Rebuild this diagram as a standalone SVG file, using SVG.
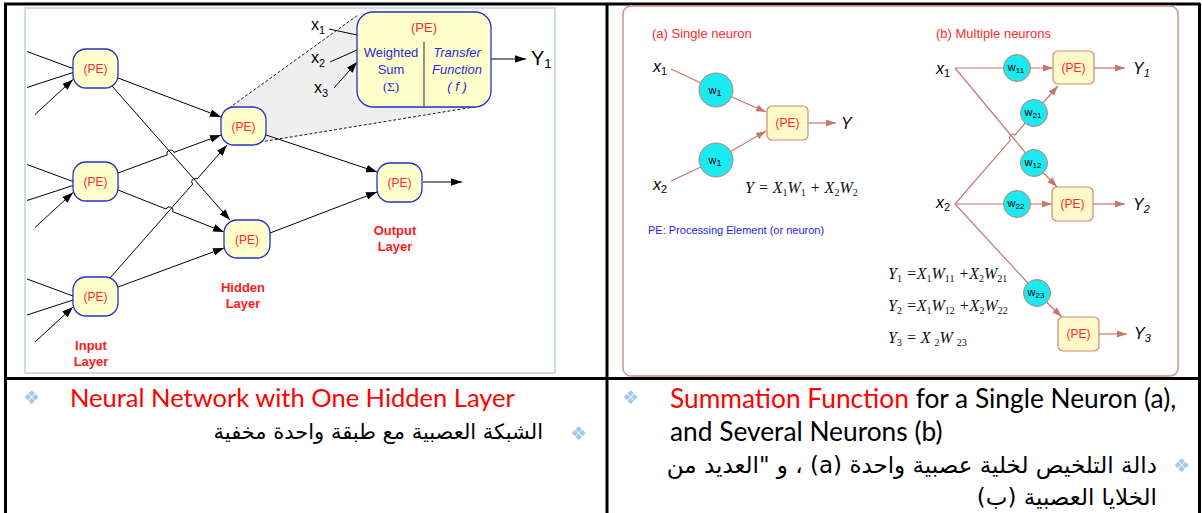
<svg xmlns="http://www.w3.org/2000/svg" width="1202" height="513" viewBox="0 0 1202 513">
<defs>
<marker id="ak" viewBox="0 0 10 7" refX="10" refY="3.5" markerWidth="11" markerHeight="7.7" markerUnits="userSpaceOnUse" orient="auto"><path d="M0,0L10,3.5L0,7z" fill="#000"/></marker>
<marker id="ar" viewBox="0 0 10 7" refX="10" refY="3.5" markerWidth="10" markerHeight="7" markerUnits="userSpaceOnUse" orient="auto"><path d="M0,0L10,3.5L0,7z" fill="#c8776c"/></marker>
</defs>
<style>
text{font-family:"Liberation Sans",Arial,sans-serif}
.pe{fill:#ffffcc;stroke:#2230cc;stroke-width:1.3}
.pet{font-size:12px;fill:#ff2a2a;text-anchor:middle}
.ln{stroke:#000;stroke-width:1;fill:none}
.lk{marker-end:url(#ak)}
.dash{stroke:#000;stroke-width:0.9;stroke-dasharray:3,2;fill:none}
.blue{font-size:13px;fill:#2a2ae0;text-anchor:middle}
.lay{font-size:13px;font-weight:bold;fill:#ff1a1a;text-anchor:middle}
.xl{font-size:16px;fill:#000}
.rl{stroke:#c8776c;stroke-width:1.2;fill:none}
.rk{marker-end:url(#ar)}
.w{fill:#1ce8ef;stroke:#c08078;stroke-width:1}
.wt{font-size:11px;fill:#000;text-anchor:middle}
.rpe{fill:#fff8c8;stroke:#d0887c;stroke-width:1.2}
.rpt{font-size:12px;fill:#ff2a2a;text-anchor:middle}
.it{font-size:16px;font-style:italic;fill:#000}
.eq{font-family:"Liberation Serif","Times New Roman",serif;font-style:italic;font-size:16px;fill:#111}
.sb{font-style:normal;font-size:10px}
.hd{font-size:13px;fill:#ff2a2a}
.bul{font-family:"DejaVu Sans",sans-serif;font-size:19px;fill:#9ccbee}
.en{font-family:Lato,"Open Sans",sans-serif;font-size:25.5px;fill:#000}
.en2{font-family:Lato,"Open Sans",sans-serif;font-size:26.3px;fill:#000}
.ar{font-family:"DejaVu Sans","Noto Sans",sans-serif;font-size:21px;fill:#000}
.ar2{font-family:"DejaVu Sans","Noto Sans",sans-serif;font-size:23px;fill:#000}
.tb{stroke:#000;stroke-width:3;fill:none}
</style>

<!-- table -->
<g id="table">
<path class="tb" d="M4,4H1200M5.5,3V513M607,3V513M4,378.5H1200M1199.5,3V513"/>
</g>

<!-- LEFT PANEL -->
<rect x="25" y="8" width="530" height="365" fill="#fff" stroke="#cfdbe8" stroke-width="2"/>
<polygon points="229,108 358,15 482,105 260,142" fill="#efefef"/>
<path class="dash" d="M229,108L358,15M260,142L480,106"/>

<g id="connectors-left">
<path class="ln lk" d="M27,51.5L73,68.5M27,87.5L73,72.5M35,114.5L73,79.5"/>
<path class="ln lk" d="M27,164.5L73,181.5M27,200.5L73,185.5M35,227.5L73,192.5"/>
<path class="ln lk" d="M27,279L73,296M27,315L73,300M35,342L73,307"/>
<path class="ln lk" d="M118,78L221,117"/>
<path class="ln lk" d="M112,86L230,220"/>
<path class="ln lk" d="M118,173L167.3,154.8A3.5,3.5 0 0 1 173.9,152.4L221,135"/>
<path class="ln lk" d="M118,190L166.2,209.1A3.5,3.5 0 0 1 172.7,211.7L224,232"/>
<path class="ln lk" d="M110,278L192.6,184.1A3.5,3.5 0 0 1 197.2,178.9L227,145"/>
<path class="ln lk" d="M118,287L224,248"/>
<path class="ln lk" d="M266,135L377,172"/>
<path class="ln lk" d="M270,233L377,192"/>
<path class="ln lk" d="M423,182L462,182"/>
<path class="ln lk" d="M329,29L357,35M330,62L357,50M334,88L357,62"/>
<path class="ln lk" d="M491,59L526,59"/>
</g>

<g id="in1"><rect class="pe" x="73" y="49" width="45" height="39" rx="13"/><text class="pet" x="95.5" y="73">(PE)</text></g>
<g id="in2"><rect class="pe" x="73" y="162" width="45" height="39" rx="13"/><text class="pet" x="95.5" y="186">(PE)</text></g>
<g id="in3"><rect class="pe" x="73" y="277" width="45" height="39" rx="13"/><text class="pet" x="95.5" y="301">(PE)</text></g>
<g id="hid1"><rect class="pe" x="221" y="107" width="45" height="38" rx="13"/><text class="pet" x="243.5" y="130.5">(PE)</text></g>
<g id="hid2"><rect class="pe" x="224" y="220" width="46" height="38" rx="13"/><text class="pet" x="247" y="243.5">(PE)</text></g>
<g id="out"><rect class="pe" x="377" y="163" width="45" height="39" rx="13"/><text class="pet" x="399.5" y="187">(PE)</text></g>

<g id="bigpe">
<rect class="pe" x="357" y="12" width="134" height="95" rx="16"/>
<line x1="424" y1="42" x2="424" y2="107" stroke="#555" stroke-width="1.3"/>
<text class="pet" x="424" y="32" style="font-size:13px">(PE)</text>
<text class="blue" x="391" y="57">Weighted</text>
<text class="blue" x="391" y="74">Sum</text>
<text class="blue" x="391" y="91" style="font-family:'Liberation Serif',serif">(Σ)</text>
<text class="blue" x="457" y="57" font-style="italic">Transfer</text>
<text class="blue" x="457" y="74" font-style="italic">Function</text>
<text class="blue" x="457" y="91" font-style="italic">( f )</text>
</g>

<g id="xlabels">
<text class="xl" x="311" y="30">x<tspan font-size="11" dy="4">1</tspan></text>
<text class="xl" x="311" y="63">x<tspan font-size="11" dy="4">2</tspan></text>
<text class="xl" x="314" y="93">x<tspan font-size="11" dy="4">3</tspan></text>
<text x="531" y="65" font-size="20">Y<tspan font-size="13" dy="3">1</tspan></text>
</g>

<g id="layers">
<text class="lay" x="91" y="350">Input</text><text class="lay" x="91" y="366">Layer</text>
<text class="lay" x="243" y="292">Hidden</text><text class="lay" x="243" y="308">Layer</text>
<text class="lay" x="395" y="235">Output</text><text class="lay" x="395" y="251">Layer</text>
</g>

<!-- RIGHT PANEL -->
<rect x="623" y="6" width="555" height="370" rx="8" fill="#fff" stroke="#d4908a" stroke-width="1.5"/>
<text class="hd" x="652" y="38">(a) Single neuron</text>
<text class="hd" x="936" y="38">(b) Multiple neurons</text>
<text x="648" y="234" font-size="11" fill="#2424ee">PE: Processing Element (or neuron)</text>

<g id="connectors-right">
<path class="rl" d="M671,69L716,90"/>
<path class="rl rk" d="M716,90L766,112"/>
<path class="rl" d="M671,181L716,160"/>
<path class="rl rk" d="M716,160L766,131"/>
<path class="rl rk" d="M808,123L836,123"/>
<path class="rl" d="M955,68L1017,68"/>
<path class="rl rk" d="M1017,68L1053,68"/>
<path class="rl" d="M955,68L1034,163"/>
<path class="rl rk" d="M1034,163L1057,187"/>
<path class="rl" d="M955,204L1010.5,140.1A3.5,3.5 0 0 1 1015.1,134.9L1034,113"/>
<path class="rl rk" d="M1034,113L1058,86"/>
<path class="rl" d="M955,204L1017,204"/>
<path class="rl rk" d="M1017,204L1052,204"/>
<path class="rl" d="M955,204L1037,293"/>
<path class="rl rk" d="M1037,293L1062,317"/>
<path class="rl rk" d="M1094,68L1125,68"/>
<path class="rl rk" d="M1093,204L1125,204"/>
<path class="rl rk" d="M1099,334L1127,334"/>
</g>

<g id="a-w1"><circle class="w" cx="716" cy="90" r="17"/><text class="wt" x="715" y="94" font-size="12">w<tspan font-size="9" dy="2">1</tspan></text></g>
<g id="a-w2"><circle class="w" cx="716" cy="160" r="17"/><text class="wt" x="715" y="164" font-size="12">w<tspan font-size="9" dy="2">1</tspan></text></g>
<g id="a-pe"><rect class="rpe" x="767" y="106" width="41" height="34" rx="5"/><text class="rpt" x="787.5" y="127">(PE)</text></g>
<text class="it" x="653" y="72">x<tspan font-size="11" font-style="normal" dy="3">1</tspan></text>
<text class="it" x="653" y="190">x<tspan font-size="11" font-style="normal" dy="3">2</tspan></text>
<text class="it" x="841" y="129">Y</text>
<text class="eq" x="745" y="193" font-size="17">Y = X<tspan class="sb" dy="3">1</tspan><tspan dy="-3">W</tspan><tspan class="sb" dy="3">1</tspan><tspan dy="-3"> + X</tspan><tspan class="sb" dy="3">2</tspan><tspan dy="-3">W</tspan><tspan class="sb" dy="3">2</tspan></text>

<g id="b-w11"><circle class="w" cx="1017" cy="68" r="13.5"/><text class="wt" x="1016" y="71">w<tspan font-size="8" dy="2">11</tspan></text></g>
<g id="b-w21"><circle class="w" cx="1034" cy="113" r="13.5"/><text class="wt" x="1033" y="116">w<tspan font-size="8" dy="2">21</tspan></text></g>
<g id="b-w12"><circle class="w" cx="1034" cy="163" r="13.5"/><text class="wt" x="1033" y="166">w<tspan font-size="8" dy="2">12</tspan></text></g>
<g id="b-w22"><circle class="w" cx="1017" cy="204" r="13.5"/><text class="wt" x="1016" y="207">w<tspan font-size="8" dy="2">22</tspan></text></g>
<g id="b-w23"><circle class="w" cx="1037" cy="293" r="13.5"/><text class="wt" x="1036" y="296">w<tspan font-size="8" dy="2">23</tspan></text></g>
<g id="b-pe1"><rect class="rpe" x="1053" y="51" width="41" height="33" rx="5"/><text class="rpt" x="1073.5" y="72">(PE)</text></g>
<g id="b-pe2"><rect class="rpe" x="1052" y="187" width="41" height="34" rx="5"/><text class="rpt" x="1072.5" y="208">(PE)</text></g>
<g id="b-pe3"><rect class="rpe" x="1058" y="317" width="41" height="34" rx="5"/><text class="rpt" x="1078.5" y="338">(PE)</text></g>
<text class="it" x="936" y="74">x<tspan font-size="11" font-style="normal" dy="3">1</tspan></text>
<text class="it" x="936" y="208">x<tspan font-size="11" font-style="normal" dy="3">2</tspan></text>
<text class="it" x="1133" y="74">Y<tspan font-size="11" dy="3">1</tspan></text>
<text class="it" x="1133" y="210">Y<tspan font-size="11" dy="3">2</tspan></text>
<text class="it" x="1134" y="339">Y<tspan font-size="11" dy="3">3</tspan></text>

<text class="eq" x="888" y="279">Y<tspan class="sb" dy="3">1</tspan><tspan dy="-3"> =X</tspan><tspan class="sb" dy="3">1</tspan><tspan dy="-3">W</tspan><tspan class="sb" dy="3">11</tspan><tspan dy="-3"> +X</tspan><tspan class="sb" dy="3">2</tspan><tspan dy="-3">W</tspan><tspan class="sb" dy="3">21</tspan></text>
<text class="eq" x="888" y="311">Y<tspan class="sb" dy="3">2</tspan><tspan dy="-3"> =X</tspan><tspan class="sb" dy="3">1</tspan><tspan dy="-3">W</tspan><tspan class="sb" dy="3">12</tspan><tspan dy="-3"> +X</tspan><tspan class="sb" dy="3">2</tspan><tspan dy="-3">W</tspan><tspan class="sb" dy="3">22</tspan></text>
<text class="eq" x="888" y="343">Y<tspan class="sb" dy="3">3</tspan><tspan dy="-3">  =  X </tspan><tspan class="sb" dy="3">2</tspan><tspan dy="-3">W </tspan><tspan class="sb" dy="3">23</tspan></text>

<!-- bottom text -->
<text class="bul" x="23" y="404">❖</text>
<text class="en" x="70" y="407" style="fill:#ff0000">Neural Network with One Hidden Layer</text>
<text class="bul" x="570" y="440">❖</text>
<text class="ar" x="543" y="439" direction="rtl" text-anchor="start">الشبكة العصبية مع طبقة واحدة مخفية</text>

<text class="bul" x="622" y="404">❖</text>
<text class="en2" x="670" y="408"><tspan fill="#ff0000">Summation Function</tspan> for a Single Neuron (a),</text>
<text class="en2" x="670" y="441">and Several Neurons (b)</text>
<text class="bul" x="1173" y="472">❖</text>
<text class="ar2" x="1157" y="473" direction="rtl" text-anchor="start">دالة التلخيص لخلية عصبية واحدة (a) ، و "العديد من</text>
<text class="ar2" x="1157" y="505" direction="rtl" text-anchor="start">الخلايا العصبية (ب)</text>
</svg>
